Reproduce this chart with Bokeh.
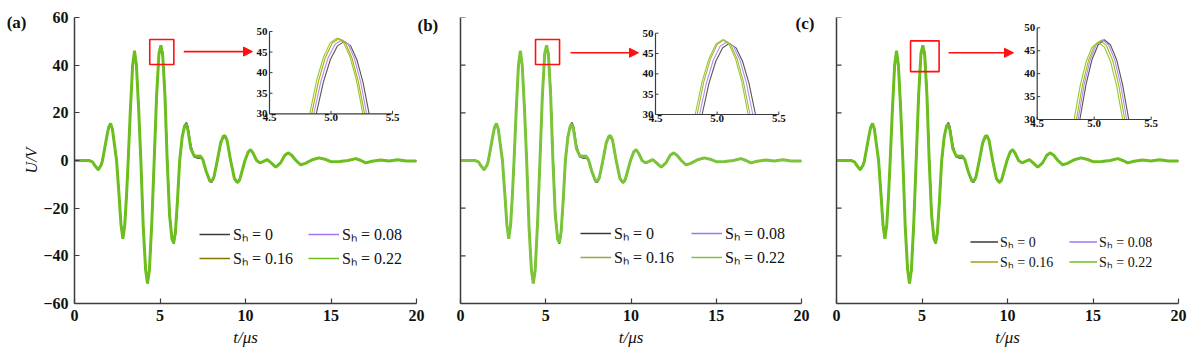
from bokeh.plotting import figure
from bokeh.models import (Range1d, FixedTicker, Legend, LegendItem, LinearAxis,
                          Arrow, NormalHead)
from bokeh.layouts import row
from bokeh.embed import file_html
from bokeh.resources import INLINE
from bokeh.core.properties import value

# ---------------- data ----------------
t_us = [0, 0.5, 0.85, 1.05, 1.2, 1.39, 1.55, 1.62, 1.75, 1.9,
        2.0, 2.11, 2.22, 2.32, 2.46, 2.6, 2.72, 2.83, 2.94, 3.04,
        3.14, 3.26, 3.4, 3.51, 3.62, 3.75, 3.88, 4.02, 4.16, 4.27,
        4.38, 4.52, 4.66, 4.8, 4.94, 5.05, 5.16, 5.29, 5.42, 5.56,
        5.7, 5.8, 5.9, 6.02, 6.15, 6.3, 6.44, 6.54, 6.64, 6.8,
        6.99, 7.2, 7.35, 7.5, 7.7, 7.9, 8.02, 8.15, 8.35, 8.55,
        8.7, 8.8, 8.92, 9.13, 9.35, 9.48, 9.56, 9.66, 9.97, 10.15,
        10.3, 10.45, 10.65, 10.85, 11.05, 11.28, 11.5, 11.77, 12.05, 12.3,
        12.49, 12.7, 12.95, 13.23, 13.5, 13.9, 14.3, 14.7, 15.0, 15.5,
        16.0, 16.45, 16.75, 17.03, 17.4, 17.9, 18.4, 18.9, 19.4, 20.0]

u_sh_0 = [0, 0, 0, -0.6, -2.2, -3.9, -2.1, -0.7, 4.2, 10.2,
          13.8, 15.3, 13.2, 8.0, 0.5, -13.5, -26.6, -32.4, -27.2, -15.5,
          -0.5, 19.5, 39.5, 45.6, 40.6, 23.0, 1.0, -27.0, -45.5, -51.0,
          -46.5, -27.0, -1.0, 26.0, 44.2, 47.3, 45.5, 29.5, 2.5, -21.0,
          -32.5, -35.0, -31.5, -18.5, -1.0, 9.5, 14.8, 15.9, 14.0, 6.5,
          1.6, 1.0, 1.2, 0.2, -4.8, -8.8, -9.2, -7.5, -0.5, 7.0,
          9.6, 9.7, 8.2, 0.3, -7.8, -9.2, -9.3, -8.4, -0.3, 3.3,
          4.3, 3.0, 0.1, -1.1, -0.5, 0.3, -1.1, -2.9, -1.1, 2.0,
          3.0, 2.2, 0.1, -1.9, -1.3, 0.2, 1.0, 0.4, -0.5, -0.5,
          0, 0.7, 0, -1.0, -0.3, 0.2, -0.2, 0.3, -0.2, -0.2]

u_sh_008 = [0, 0, 0, -0.6, -2.2, -3.9, -2.1, -0.6, 4.3, 10.3,
            13.9, 15.4, 13.1, 7.8, 0.3, -13.7, -26.8, -32.6, -27.1, -15.3,
            -0.3, 19.7, 39.7, 45.8, 40.3, 22.5, 0.5, -27.5, -45.7, -51.3,
            -46.3, -26.5, -0.5, 26.5, 44.6, 47.8, 44.8, 28.3, 1.3, -22.0,
            -32.8, -34.8, -30.8, -17.8, -0.5, 9.7, 14.7, 15.5, 13.3, 5.8,
            1.8, 1.4, 1.5, 0.3, -4.6, -8.6, -9.0, -7.3, -0.3, 7.2,
            9.9, 10.0, 8.3, 0.1, -7.6, -9.0, -9.1, -8.2, -0.1, 3.4,
            4.4, 3.0, 0, -1.0, -0.4, 0.3, -1.0, -2.8, -1.0, 2.1,
            3.1, 2.2, 0, -1.8, -1.2, 0.3, 1.0, 0.4, -0.5, -0.4,
            0, 0.8, 0, -1.0, -0.3, 0.2, -0.2, 0.3, -0.2, -0.2]

u_sh_016 = [0, 0, 0, -0.6, -2.2, -3.9, -2.0, -0.5, 4.4, 10.4,
            14.0, 15.5, 13.0, 7.6, 0.1, -13.9, -26.9, -32.7, -27.0, -15.1,
            -0.1, 19.9, 39.9, 46.0, 40.1, 22.2, 0.2, -27.8, -45.9, -51.5,
            -46.1, -26.2, -0.2, 26.8, 44.9, 48.2, 44.3, 27.5, 0.5, -22.6,
            -32.9, -34.6, -30.3, -17.3, -0.2, 9.9, 14.6, 15.2, 12.8, 5.3,
            1.9, 1.6, 1.7, 0.4, -4.5, -8.4, -8.8, -7.1, -0.1, 7.4,
            10.1, 10.3, 8.4, 0, -7.5, -8.9, -9.0, -8.1, 0, 3.5,
            4.5, 3.0, 0, -1.0, -0.4, 0.4, -1.0, -2.8, -1.0, 2.2,
            3.2, 2.2, 0, -1.8, -1.2, 0.3, 1.1, 0.4, -0.5, -0.4,
            0, 0.8, 0, -1.0, -0.3, 0.2, -0.2, 0.3, -0.2, -0.2]

u_sh_022 = [0, 0, 0, -0.6, -2.2, -3.9, -2.0, -0.5, 4.5, 10.5,
            14.0, 15.6, 13.0, 7.5, 0, -14, -27, -32.8, -27, -15,
            0, 20, 40, 46, 40, 22, 0, -28, -46, -51.6,
            -46, -26, 0, 27, 45, 48.3, 44, 27, 0, -23,
            -33, -34.5, -30, -17, 0, 10, 14.5, 15.0, 12.5, 5,
            2.0, 1.8, 1.9, 0.5, -4.5, -8.3, -8.7, -7.0, 0, 7.5,
            10.2, 10.4, 8.5, 0, -7.5, -8.8, -8.9, -8.0, 0, 3.5,
            4.6, 3.0, 0, -1.0, -0.4, 0.4, -1.0, -2.8, -1.0, 2.2,
            3.2, 2.2, 0, -1.8, -1.2, 0.3, 1.1, 0.4, -0.5, -0.4,
            0, 0.8, 0, -1.0, -0.3, 0.2, -0.2, 0.3, -0.2, -0.2]

series_labels = ["Sₕ = 0", "Sₕ = 0.08", "Sₕ = 0.16", "Sₕ = 0.22"]
panel_tags = ["(a)", "(b)", "(c)"]

x_ticks = [0, 5, 10, 15, 20]
y_ticks = [-60, -40, -20, 0, 20, 40, 60]
inset_x_ticks = [4.5, 5.0, 5.5]
inset_x_labels = ["4.5", "5.0", "5.5"]
inset_y_ticks = [30, 35, 40, 45, 50]
inset_y_labels = ["30", "35", "40", "45", "50"]

# inset (zoom on the peak near 5 us), panel (a)
a_t_0 = [4.88, 4.938, 4.995, 5.052, 5.11, 5.16, 5.21, 5.26, 5.31]
a_u_0 = [30, 37.7, 43.2, 46.5, 47.6, 46.5, 43.2, 37.7, 30]
a_t_008 = [4.86, 4.918, 4.975, 5.033, 5.09, 5.14, 5.19, 5.24, 5.29]
a_u_008 = [30, 37.9, 43.5, 46.9, 48.0, 46.9, 43.5, 37.9, 30]
a_t_016 = [4.843, 4.899, 4.954, 5.01, 5.065, 5.117, 5.169, 5.221, 5.273]
a_u_016 = [30, 38.0, 43.7, 47.2, 48.3, 47.2, 43.7, 38.0, 30]
a_t_022 = [4.827, 4.883, 4.939, 4.994, 5.05, 5.102, 5.155, 5.207, 5.259]
a_u_022 = [30, 38.1, 43.8, 47.3, 48.4, 47.3, 43.8, 38.1, 30]
# panel (b)
b_t_0 = [4.878, 4.934, 4.989, 5.045, 5.10, 5.153, 5.206, 5.258, 5.311]
b_u_0 = [30, 37.7, 43.1, 46.4, 47.5, 46.4, 43.1, 37.7, 30]
b_t_008 = [4.857, 4.913, 4.969, 5.024, 5.08, 5.132, 5.185, 5.237, 5.289]
b_u_008 = [30, 37.8, 43.4, 46.8, 47.9, 46.8, 43.4, 37.8, 30]
b_t_016 = [4.838, 4.892, 4.947, 5.001, 5.055, 5.108, 5.161, 5.213, 5.266]
b_u_016 = [30, 38.1, 43.8, 47.3, 48.4, 47.3, 43.8, 38.1, 30]
b_t_022 = [4.822, 4.878, 4.934, 4.989, 5.045, 5.097, 5.148, 5.2, 5.251]
b_u_022 = [30, 38.1, 43.8, 47.3, 48.4, 47.3, 43.8, 38.1, 30]
# panel (c)
c_t_0 = [4.874, 4.928, 4.981, 5.035, 5.088, 5.142, 5.196, 5.249, 5.303]
c_u_0 = [30, 37.6, 43.1, 46.3, 47.4, 46.3, 43.1, 37.6, 30]
c_t_008 = [4.859, 4.912, 4.966, 5.019, 5.072, 5.125, 5.179, 5.232, 5.285]
c_u_008 = [30, 37.6, 43.1, 46.3, 47.4, 46.3, 43.1, 37.6, 30]
c_t_016 = [4.844, 4.897, 4.95, 5.002, 5.055, 5.108, 5.162, 5.215, 5.268]
c_u_016 = [30, 37.5, 42.9, 46.1, 47.2, 46.1, 42.9, 37.5, 30]
c_t_022 = [4.824, 4.877, 4.93, 4.982, 5.035, 5.089, 5.143, 5.196, 5.25]
c_u_022 = [30, 37.4, 42.7, 45.8, 46.9, 45.8, 42.7, 37.4, 30]

# ---------------- style / layout ----------------
FONT = "Liberation Serif"
AXIS_COLOR = "#3c3c3c"
TXT = "#111111"

main_colors = [
    ["#3a3a3a", "#a374f2", "#857600", "#6cbf1e"],
    ["#3a3a3a", "#a374f2", "#a3a33c", "#7cc43a"],
    ["#3a3a3a", "#a374f2", "#a0a010", "#6cbf1e"],
]
inset_colors = [
    ["#555555", "#b48cf5", "#b0a800", "#8ccc30"],
    ["#555555", "#b48cf5", "#b0b040", "#8ccc30"],
    ["#555555", "#b48cf5", "#b0b020", "#8ccc30"],
]

frame_w = [342, 341, 342]
frame_h = 286
border_l = [74, 16, 16]
border_r = [28, 19, 12]
border_t = 17
border_b = 49

# inset boxes: (left, top, width, height) in px relative to frame top-left
inset_boxes = [(195, 14, 123, 82.3), (195, 15.7, 123.3, 81.3), (200.7, 10.3, 114, 91.7)]
# red zoom box in data units (left, right, bottom, top)
zoom_boxes = [(4.40, 5.81, 40.3, 50.8), (4.40, 5.81, 40.3, 50.8), (4.33, 6.0, 37.3, 50.2)]
# arrow in data units (x_start, x_end, y)
arrows = [(6.39, 10.41, 45.7), (6.45, 10.44, 45.2), (6.55, 10.35, 45.2)]
legend_cfg = [
    dict(loc=(125, 34), gw=31, st=3, lw=73, gh=20, sp=2, fs="16px"),
    dict(loc=(120, 35), gw=31, st=3, lw=75, gh=20, sp=2, fs="16px"),
    dict(loc=(134, 32), gw=28, st=2, lw=68, gh=15, sp=1, fs="14px"),
]

inset_data = [
    [(a_t_0, a_u_0), (a_t_008, a_u_008), (a_t_016, a_u_016), (a_t_022, a_u_022)],
    [(b_t_0, b_u_0), (b_t_008, b_u_008), (b_t_016, b_u_016), (b_t_022, b_u_022)],
    [(c_t_0, c_u_0), (c_t_008, c_u_008), (c_t_016, c_u_016), (c_t_022, c_u_022)],
]
main_series = [u_sh_0, u_sh_008, u_sh_016, u_sh_022]

# panel tags drawn as single-label axes: (host panel, side, y position, standoff)
tag_pos = [(0, "left", 57.9, -6), (0, "right", 56.6, 1), (1, "right", 57.5, -6)]


def make_panel(i):
    p = figure(frame_width=frame_w[i], frame_height=frame_h,
               min_border_left=border_l[i], min_border_right=border_r[i],
               min_border_top=border_t, min_border_bottom=border_b,
               x_range=Range1d(x_ticks[0], x_ticks[-1]),
               y_range=Range1d(y_ticks[0], y_ticks[-1]),
               output_backend="svg", toolbar_location=None, tools="")
    p.outline_line_color = None
    p.grid.visible = False
    p.background_fill_color = "white"
    p.border_fill_color = "white"

    for ax in (p.xaxis[0], p.yaxis[0]):
        ax.axis_line_color = AXIS_COLOR
        ax.axis_line_width = 1.5
        ax.major_tick_line_color = AXIS_COLOR
        ax.major_tick_line_width = 1.2
        ax.major_tick_in = 5
        ax.major_tick_out = 0
        ax.minor_tick_line_color = None
        ax.major_label_text_font = FONT
        ax.major_label_text_font_size = "16px"
        ax.major_label_text_font_style = "bold"
        ax.major_label_text_color = TXT
        ax.major_label_standoff = 6
        ax.axis_label_text_font = FONT
        ax.axis_label_text_font_size = "17px"
        ax.axis_label_text_font_style = "italic"
        ax.axis_label_text_color = TXT
    p.xaxis.ticker = FixedTicker(ticks=x_ticks)
    p.xaxis.axis_label = "t/μs"
    p.xaxis.axis_label_standoff = 4
    sx = frame_w[i] / (x_ticks[-1] - x_ticks[0])
    if i == 0:
        p.yaxis.ticker = FixedTicker(ticks=y_ticks)
        p.yaxis.axis_label = "U/V"
        p.yaxis.axis_label_text_font_size = "16px"
        p.yaxis.axis_label_standoff = 0
    else:
        # unlabeled y axis: inward ticks only
        p.yaxis.ticker = FixedTicker(ticks=[])
        n = len(y_ticks)
        p.segment(x0=[x_ticks[0]] * n, y0=y_ticks, x1=[x_ticks[0] + 5 / sx] * n, y1=y_ticks,
                  line_color=AXIS_COLOR, line_width=1.2)

    # main curves: thin lines, the S_h = 0.22 curve thick on top
    line_r = []
    for k in range(3):
        line_r.append(p.line(t_us, main_series[k], line_color=main_colors[i][k], line_width=1.5))
    p.line(t_us, main_series[3], line_color=main_colors[i][3], line_width=3.0)
    line_r.append(p.line(t_us, main_series[3], line_color=main_colors[i][3], line_width=1.5))

    cfg = legend_cfg[i]
    items = [LegendItem(label=series_labels[k], renderers=[line_r[k]]) for k in range(4)]
    leg = Legend(items=items, location=cfg["loc"], orientation="horizontal", ncols=2,
                 glyph_width=cfg["gw"], glyph_height=cfg["gh"], label_height=cfg["gh"],
                 label_width=cfg["lw"], label_standoff=cfg["st"], spacing=cfg["sp"],
                 padding=0, margin=0, border_line_alpha=0, background_fill_alpha=0,
                 label_text_font=FONT, label_text_font_size=cfg["fs"],
                 label_text_color=TXT)
    p.add_layout(leg)

    # red zoom box + arrow
    zl, zr, zb, zt = zoom_boxes[i]
    p.quad(left=[zl], right=[zr], bottom=[zb], top=[zt], fill_alpha=0,
           line_color="#ff1010", line_width=1.6)
    xs, xe, ya = arrows[i]
    p.add_layout(Arrow(x_start=xs, y_start=ya, x_end=xe, y_end=ya,
                       line_color="#ff1010", line_width=1.6,
                       end=NormalHead(size=9, fill_color="#ff1010", line_color="#ff1010")))

    # inset via extra ranges
    left, top, w, h = inset_boxes[i]
    fw = frame_w[i]
    isx = w / (inset_x_ticks[-1] - inset_x_ticks[0])
    isy = h / (inset_y_ticks[-1] - inset_y_ticks[0])
    ix0 = inset_x_ticks[0] - left / isx
    ix1 = inset_x_ticks[0] + (fw - left) / isx
    iy1 = inset_y_ticks[-1] + top / isy
    iy0 = inset_y_ticks[0] - (frame_h - top - h) / isy
    p.extra_x_ranges = {"ix": Range1d(ix0, ix1)}
    p.extra_y_ranges = {"iy": Range1d(iy0, iy1)}
    kw = dict(x_range_name="ix", y_range_name="iy")

    for k, (tt, uu) in enumerate(inset_data[i]):
        p.line(tt, uu, line_color=inset_colors[i][k], line_width=1.1, **kw)

    xa, xb = inset_x_ticks[0], inset_x_ticks[-1]
    ya0, yb0 = inset_y_ticks[0], inset_y_ticks[-1]
    p.segment(x0=[xa, xa], y0=[ya0, ya0], x1=[xa, xb], y1=[yb0, ya0],
              line_color=AXIS_COLOR, line_width=1.2, **kw)
    p.segment(x0=[xa] * len(inset_y_ticks), y0=inset_y_ticks,
              x1=[xa + 3 / isx] * len(inset_y_ticks), y1=inset_y_ticks,
              line_color=AXIS_COLOR, line_width=1, **kw)
    p.segment(x0=inset_x_ticks, y0=[ya0] * len(inset_x_ticks),
              x1=inset_x_ticks, y1=[ya0 + 3 / isy] * len(inset_x_ticks),
              line_color=AXIS_COLOR, line_width=1, **kw)
    p.text(x=[xa - 2 / isx] * len(inset_y_ticks), y=inset_y_ticks, text=inset_y_labels,
           text_align="right", text_baseline="middle", text_font=value(FONT),
           text_font_size="11px", text_font_style="bold", text_color=TXT, **kw)
    p.text(x=inset_x_ticks, y=[ya0 - 0.5 / isy] * len(inset_x_ticks), text=inset_x_labels,
           text_align="center", text_baseline="top", text_font=value(FONT),
           text_font_size="11px", text_font_style="bold", text_color=TXT, **kw)
    return p


panels = [make_panel(i) for i in range(3)]

for j, (host, side, ty, standoff) in enumerate(tag_pos):
    tag_axis = LinearAxis(ticker=FixedTicker(ticks=[ty]),
                          major_label_overrides={ty: panel_tags[j]},
                          axis_line_color=None, major_tick_line_color=None,
                          minor_tick_line_color=None, major_tick_in=0, major_tick_out=0,
                          major_label_standoff=standoff,
                          major_label_text_font=FONT, major_label_text_font_size="17px",
                          major_label_text_font_style="bold", major_label_text_color=TXT)
    panels[host].add_layout(tag_axis, side)

layout = row(*panels, spacing=0)
open("out.html", "w").write(file_html(layout, INLINE))
